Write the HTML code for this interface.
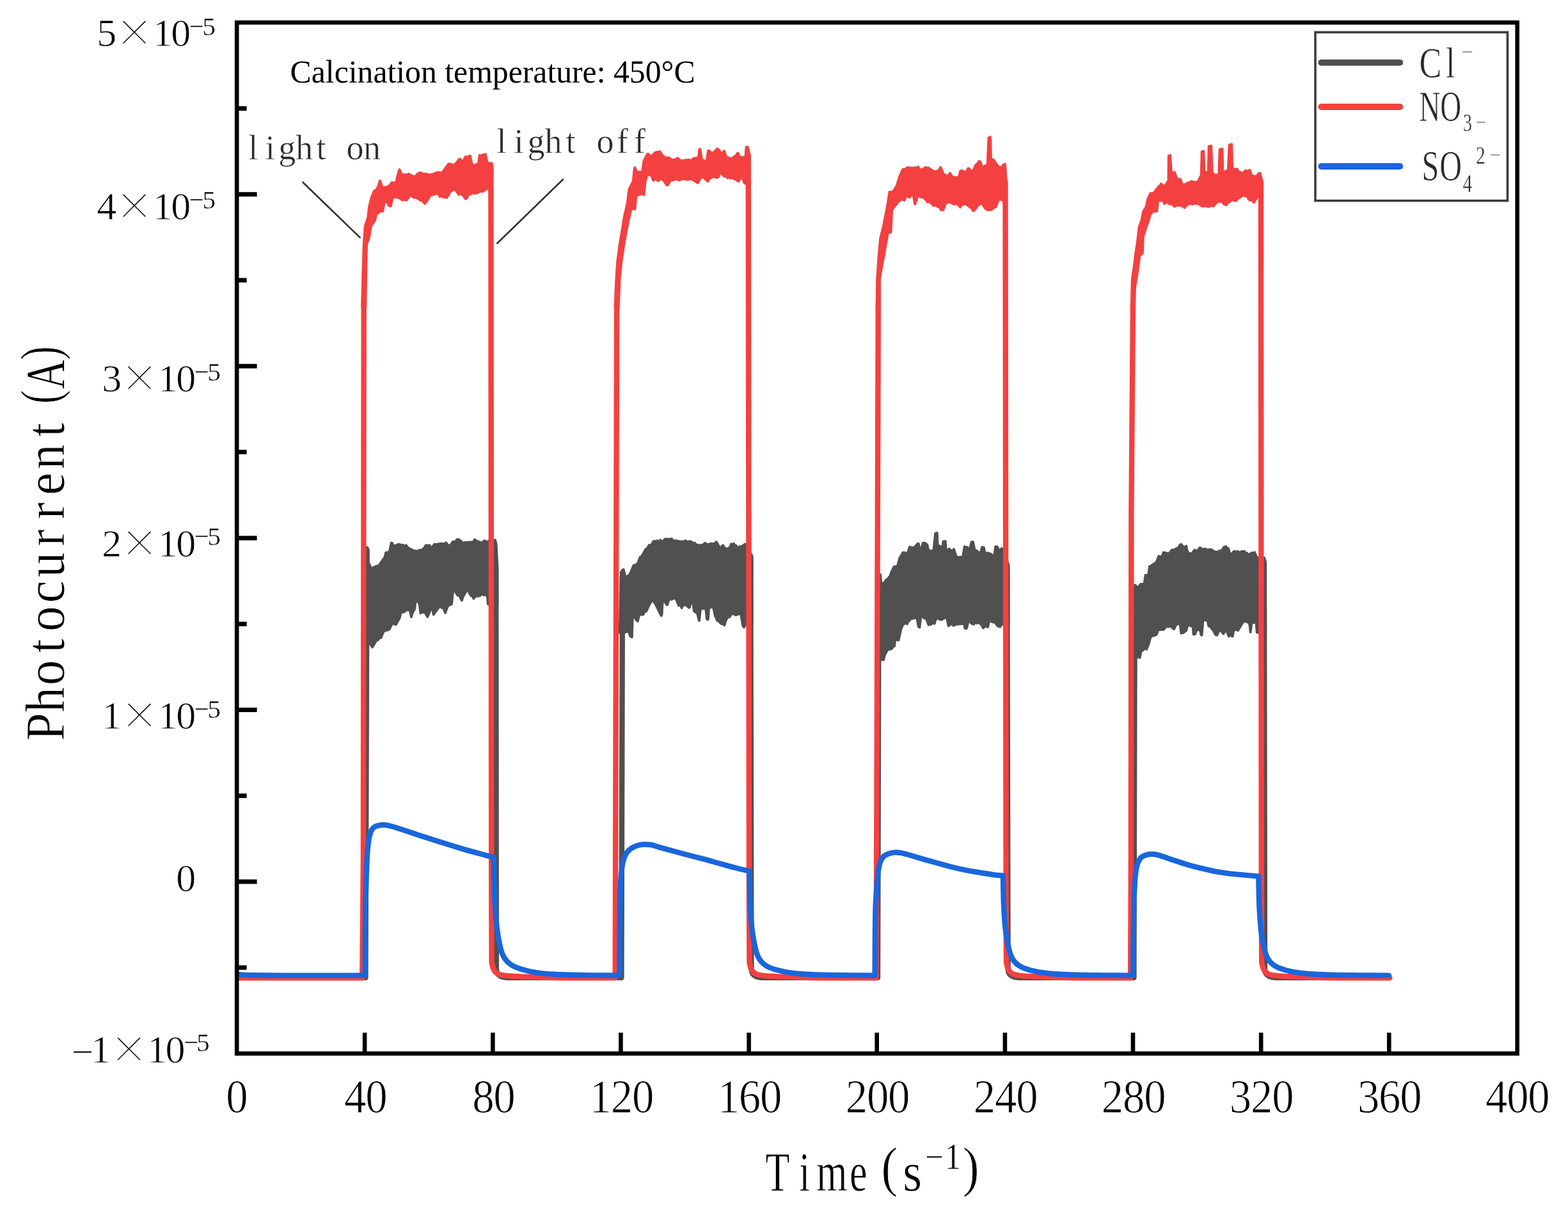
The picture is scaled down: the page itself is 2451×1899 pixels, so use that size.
<!DOCTYPE html>
<html lang="en"><head><meta charset="utf-8"><title>Photocurrent response</title>
<style>html,body{margin:0;padding:0;background:#fff}body{width:2451px;height:1899px;overflow:hidden}svg{display:block}text{font-family:"Liberation Serif",serif;fill:#000}.e6,.e8,.e10,.e12{stroke:#fff;stroke-linejoin:round}.e6{stroke-width:.6px}.e8{stroke-width:.8px}.e10{stroke-width:1px}.e12{stroke-width:.8px}.dk{fill:#2a2a2a}</style></head><body>
<svg width="2451" height="1899" viewBox="0 0 2451 1899">
<rect width="2451" height="1899" fill="#fff"/>
<defs><clipPath id="plot"><rect x="370.2" y="35.2" width="2001.5" height="1611.4"/></clipPath></defs>
<text class="e6 dk" text-anchor="middle" font-size="54" x="395.7 422.2 448.8 475.4 501.9 528.5 555 581.5" y="248.9">light on</text>
<text class="e6 dk" text-anchor="middle" font-size="54" x="784 811 838 865 892 919 946 973 1000" y="238.9">light off</text>
<g id="cl" fill="#505050" stroke="#505050" stroke-linejoin="round" stroke-linecap="round" clip-path="url(#plot)">
<path d="M370.2,1528.1 H571.4 L573.6,859.3 M775.2,888.4 L775.8,1514.1 Q776.4,1527.6 792.8,1528.1 H971.4 L973,895 M1173.3,871.9 L1174.4,1514.1 Q1175,1527.6 1191.4,1528.1 H1372 L1373.6,899.6 M1574.2,886.6 L1575.6,1514.1 Q1576.2,1527.6 1592.6,1528.1 H1772.4 L1773.8,917 M1976,879.2 L1977,1514.1 Q1977.6,1527.6 1994,1528.1 H2172" fill="none" stroke-width="8.4"/>
<path d="M569.9,855.1 572.3,855.6 574.2,855.6 576,879.2 580.2,888.1 582.1,888.7 584.5,886.5 587,885.4 589.5,884.5 591.4,884.6 592.8,883.1 601.5,870.6 603.1,863.7 605.2,863.7 608.8,862.4 611.6,848.5 612.7,848.5 615,852.6 616.8,853.3 620,851.9 622.8,850.6 625.2,851.2 627.3,851.9 630.5,852 633.3,853.7 634.8,852.3 638.3,856.7 640.9,857.7 642.9,858.7 645.7,860.2 648,861.5 650.1,860.7 652.4,862.3 655.4,859.8 658.2,859.9 662.1,857.7 665.7,852.2 668.8,852.8 671.3,852.2 674.5,856.9 679.3,850.4 681.5,851.2 684.6,850.3 687.3,849.9 690.7,849.7 693.8,850.4 697.4,848.2 699.4,851.4 701.8,852.6 703.6,852.4 708.2,846.4 711.1,847.6 714,843.2 717.3,843.2 719.7,845 721,845.9 723.9,849.4 727,847.7 730.7,847.8 733.6,847.5 736.3,847.4 738.8,846.8 740.2,847.4 741.9,843.2 744,845.2 747,846 749.1,846.9 751.9,848.1 755.1,847.7 756.5,845.1 759.1,845.9 762.4,847.9 763.8,845.1 766,845.3 768.3,845.8 771.2,844.8 773.9,844 775.6,849.8 777.4,884.5 777.5,945.7 775.4,943.3 772,944.1 769.8,945.3 767.5,945.3 764.9,945.7 762.8,944.2 761.9,933.2 759.4,928.8 756.4,930.1 753.9,927.8 750.9,930.7 748.6,931.6 746.7,932 745,931.7 743,932 740.2,935.6 738.4,931.2 736,931 730.4,921 723.6,933 721.9,938.4 720.5,936.2 718.9,932.6 717.2,930.4 715.8,930.9 714.3,929 712.1,925 709.5,923.9 708,923.8 706.1,944.2 702.5,945.8 700,947.3 697.1,954.9 696.1,957.9 692.7,949.9 690.2,949.8 687.9,947.5 685.6,949.8 678.2,959.9 677.6,960.6 675.5,947.4 671.3,957.1 668.3,964 663.9,956.9 661.9,957.2 659.9,956.6 657.3,958.4 655.7,944.4 653,939.9 651.4,940.1 649.4,939.4 648.3,951.7 644.9,957.6 642.9,964.3 640.5,952.6 637.5,953.7 634.8,952.6 633,955.9 630.8,956.3 628.7,956.9 626.7,957.4 624.6,966.1 618.8,976.3 617.4,975.5 615.3,975 613.4,974.4 608.6,983.7 604.7,985.1 602.4,985.4 599.4,987.4 595.6,996.8 593.7,996.1 591,1000.3 588.7,1000.7 586.5,1004 582.1,1011.6 577.8,1005.4 575.9,1002.6 573.1,1004.5 570.5,1005.2Z" stroke-width="3.8"/>
<path d="M970.5,901.3 973,890.9 974.5,890.1 977.8,901.6 980.1,901.9 981.6,900 984.1,898.2 985.9,894.5 990.3,883.8 992.8,883 996.7,881 1000.6,870.7 1002.2,871 1004.4,867.1 1005.9,864.4 1009.6,858 1011.8,857.4 1013.3,853.9 1014.9,851.9 1017.4,851.9 1019,850.5 1021.7,845.8 1024.6,846.1 1027.4,845.1 1029.3,847.5 1032.2,844.1 1034.9,846.2 1037.5,845.3 1039.4,842.3 1041.7,842.7 1044.1,842.6 1047,842.6 1049.9,842 1051.9,845.4 1054.2,844.9 1057.2,845.1 1060.6,846 1064,846.3 1066.8,846.4 1068.7,846.1 1072.1,845.1 1074,847.6 1076.2,846.7 1079,845.9 1081.7,847.6 1084.2,849.3 1086,848.5 1087.7,851.1 1090.5,851.5 1092.8,853.1 1095.5,851.7 1098.5,852.2 1101.6,848.7 1104.5,850.3 1107.3,851.2 1110.8,849.7 1113.5,850 1116.7,849.7 1119.8,846.9 1120.9,848.7 1124.7,856 1127.5,854.6 1130.3,852.3 1132.5,857.4 1133.9,856.8 1135.7,858.8 1137,857.7 1138.3,857.4 1140.4,855.8 1141.8,853.5 1142.9,850.2 1145.1,852.4 1146.9,849.6 1148.7,853.9 1150.1,852.2 1152.7,856 1156.6,854.2 1158.6,854.3 1161.1,852.8 1163.1,851.7 1164.6,850.3 1173.1,864.3 1175.6,868.9 1175.6,975.9 1175.6,974.8 1173.7,975.5 1171.3,974.2 1168,973.6 1165.9,976 1162.8,980.5 1161,977.3 1158,959.4 1155,959.6 1151.9,960.7 1149.8,961.3 1147.3,959.6 1144.8,959.5 1142.6,960.2 1140.4,964.6 1138.9,962.9 1136.6,966.5 1134.7,969.4 1132.4,977.2 1130.4,975.1 1128,975.2 1125.8,973.4 1123.1,970.4 1121.3,970.2 1117.9,962.6 1115,949.4 1111.7,948 1109.8,949.9 1107.9,950.8 1107,968 1105,967.9 1103.2,951.5 1101,951.2 1098.3,950.9 1095.1,951.5 1093.2,968.1 1092.9,970.2 1090.3,959.5 1088.4,957.4 1086.7,956.5 1085,955.2 1082,934.6 1077.7,949.8 1076.5,949.5 1074.3,947.4 1072.1,946 1070.2,944.8 1067.2,947 1065.6,950.3 1064.1,946.6 1062.5,945.4 1060.9,946.5 1056.7,935.9 1053.3,934.8 1049.9,937 1047.3,935.7 1045.3,937.9 1043.2,945.5 1042.2,945.1 1039.7,941.5 1037.4,939.1 1035.6,940.6 1034.6,960 1033.7,962.4 1029.9,954.9 1024.4,944 1020,937.4 1015.5,944 1010.1,955.7 1007.7,955.8 1005.4,960.5 1001.7,960.6 999.3,961 997.2,969.6 996.5,970.9 995.2,969.5 993.6,967.6 991.2,963.1 988.8,962.7 987.9,995.8 985.5,994.7 982.6,987.3 979.5,986.8 976.7,988.7 973.3,988.7 970.7,987.3 968.7,988.7Z" stroke-width="3.8"/>
<path d="M1369.7,895.3 1372.1,896.8 1376.1,898 1377.3,912.2 1380.1,911.5 1381.9,911.5 1383.9,908 1385.6,905.8 1387.4,905.2 1389.4,902.5 1391.3,900.1 1393.3,894.3 1397.6,885.7 1399.4,885.5 1401.4,885.2 1403.2,883.6 1406.2,872.3 1411.3,863.7 1413.3,863.4 1415.3,864.5 1418.6,864.6 1422.1,854.7 1425,855.8 1428.1,856 1430.7,854.1 1433.6,850.4 1435.6,849.5 1438.7,862.4 1442.7,848.7 1446,848.7 1449.4,851.4 1451.3,859.8 1453.9,860.9 1457.3,861 1459.3,861.1 1462.1,833.7 1464.9,832.9 1465.7,852.8 1468.7,853.1 1471.9,855.9 1473.7,853.5 1474.4,846.4 1477.8,845.8 1478.6,861.2 1481.3,859.6 1483.7,857.8 1486.4,860.4 1489.6,860.6 1491,858.3 1494.5,869.1 1497.8,871.5 1500.8,870.6 1502.8,870.7 1504.9,870.8 1507.7,854.2 1509.8,857 1511.7,855 1514.1,858.3 1515.9,857.9 1518.6,847.1 1520.9,847 1523.7,859.8 1526.3,860.5 1529.4,863.3 1532.1,863.2 1533.5,862.2 1534.9,855.5 1537.7,855.5 1539.4,862.8 1541.4,865.4 1543.6,864.2 1546.6,865.1 1549.6,866.3 1552.5,869.6 1554.3,867.2 1556.2,854.2 1559.1,854.9 1561.2,859.6 1563.5,859.6 1565.9,857.2 1574.8,877.8 1576.5,883.2 1576.5,975.9 1575.2,973.3 1572.9,975.7 1570.7,975 1567.9,976 1565.2,976.4 1563.4,979.6 1559.3,978.1 1557,975.1 1555.2,972.9 1553.7,972.5 1551.4,972.3 1549,970.4 1545.9,971.9 1544.1,980.1 1541.5,978.6 1539.5,979 1536.8,981.5 1533.8,976.3 1529.9,972.3 1527.1,974.1 1525.1,972.2 1521.9,975.9 1520.3,974.9 1517.7,973.7 1515.5,970.6 1513.3,972.5 1511,982.1 1508.3,982 1507,975.3 1505,975.2 1502.9,975 1500.3,974.9 1497.5,975.9 1496,975.4 1493.5,976.3 1490.3,977.7 1488,975.2 1485.8,975.7 1482.7,978.3 1479.9,965.5 1478.7,963.6 1476.4,966.1 1474.4,967 1471.9,968.6 1468.3,967.9 1466.3,966.4 1463,967 1460.7,974.7 1458.6,973.3 1455.4,975.9 1451.5,976.5 1448.1,967.5 1444.6,965.9 1441.4,963.6 1439.4,964 1437.5,980.6 1435.4,978.8 1433.4,965.8 1430.9,965.8 1427.5,966.4 1425.2,967.2 1423.7,965.9 1421.6,970.1 1420.3,969.9 1418,975.3 1416.1,973 1414,974.8 1411.4,976.4 1408.1,984.6 1404.6,1000.7 1402.2,1000 1399.2,1000.5 1398.1,1010.1 1395.9,1010.3 1394.2,1013.7 1392.2,1014.5 1389.5,1014.9 1386.6,1016.7 1382.5,1024.8 1381.1,1031.4 1379,1030.9 1376.9,1030.8 1373.7,1029.2 1370.5,1030.8Z" stroke-width="3.8"/>
<path d="M1770.3,916.5 1772.6,919.4 1776.1,918.1 1779.3,917.3 1780.8,915.8 1782.4,913.9 1783.3,912.6 1785.7,913.7 1788.7,911.8 1790.5,898.9 1793.6,899.3 1795.1,898 1797,885.2 1799.4,884.6 1801.8,882.3 1803.5,881.7 1806.3,879.4 1807.8,878.2 1811.3,869.2 1814.1,870.9 1817.5,867.6 1818.8,863.3 1821.2,863.8 1823.8,864.4 1827.2,865.7 1828.7,863.3 1830,861.8 1831.9,859.5 1835.1,859.7 1838.4,857.6 1839.7,857.1 1842.2,856.2 1844,852 1846.1,850.5 1848.5,853.5 1849.5,854.1 1851.7,855.2 1854.3,853.6 1855.8,861.4 1858.7,865.2 1861.7,865.2 1864,864.1 1866,861.1 1867.6,859.5 1869.9,861.9 1873.8,858.7 1875.1,856.1 1877.4,856.8 1879.7,858.8 1882.9,857.9 1885,858.2 1887.8,859.8 1890.3,858.9 1893.7,858.8 1895.3,860.5 1897.5,861.6 1901,862.9 1904.3,862 1907.7,860.5 1909.4,861.7 1911.6,857.4 1913.5,854.9 1916.5,854.2 1918.6,857.7 1919.9,856.9 1922.6,865.9 1924.6,866.4 1927.4,863.2 1929.3,861.5 1931.8,862.5 1934.8,861.9 1938,863.6 1940.7,861.9 1945.2,861.6 1947.1,865.3 1948.9,864.3 1951.2,866.2 1953.6,866.7 1956.3,864 1958.6,864.4 1961.1,863.2 1964.6,871.4 1968.1,871.7 1970.6,871.9 1974.1,871.7 1975.9,871.5 1977.6,876.1 1978.3,988.7 1975,986.9 1972.1,987.8 1969.8,987.7 1966.7,988.7 1964.7,988.3 1963.7,973.6 1962,973.4 1960,973 1956.5,973.5 1954.6,988.1 1954.5,987.1 1953.6,977.1 1951.3,972.1 1949.5,972 1948.1,971.9 1946.3,970.4 1945.1,971.3 1943.7,971 1941.9,974.3 1940.2,976.7 1935.1,985.5 1931.7,983.4 1928.4,985.7 1926.7,994.7 1923.2,992.4 1920.9,994.6 1917,985.3 1914,987.4 1912.3,990.6 1910.7,988.6 1907.9,984.7 1905.7,986 1902.2,992.8 1900.1,992 1895.6,983.9 1894.6,983.1 1892,979.2 1889.4,978.7 1887.5,969.5 1885.8,969.6 1883.4,969.1 1880.4,970 1878.6,992.9 1877.3,992.1 1876.5,985.9 1873.3,984.1 1869.9,985.6 1868.3,990.9 1865.6,991.6 1864.7,979.7 1861.9,978.5 1858.6,976.6 1856.3,978.2 1854.1,985.9 1851.3,987.7 1849.6,988.8 1846.4,989.7 1844.6,976.1 1842.9,974.3 1839.7,976.1 1837.8,977.5 1835.1,983.3 1832.6,981.4 1830.5,978.6 1828.1,979.2 1826.3,979.6 1823.2,979.1 1820.4,982.3 1818.5,984.2 1814,984.2 1810.6,984.5 1807.6,992 1806.3,992.1 1804.6,993.3 1802.4,993.9 1800.1,994.1 1798.3,996.8 1795.3,1007.4 1792.1,1014.9 1789,1013.2 1786.9,1016 1783.7,1017.8 1781.8,1027.9 1780.1,1026 1776.8,1028.1 1772.6,1027.2 1770.5,1028.1Z" stroke-width="3.8"/>
</g>
<g id="no3" fill="#F44040" stroke="#F44040" stroke-linejoin="round" stroke-linecap="round" clip-path="url(#plot)">
<path d="M370.2,1528.4 H566.2 L567.9,1340 L568.7,474 M767.4,264.4 L768.2,1400 L768.6,1504.1 C769.6,1507.7 769.8,1511.5 771.5,1514.8 C773,1517.7 775.2,1520.4 778.1,1521.9 C782.1,1523.9 786.7,1524.4 791.2,1524.9 C801.9,1526 812.6,1526.2 823.3,1526.7 C835.2,1527.2 847.1,1527.6 859,1527.9 C872.2,1528.2 885.4,1528.2 898.6,1528.4 H961.7 L962.1,1340 L964.1,474 M1169.7,244.3 L1171,1400 L1171.4,1504.1 C1172.4,1507.7 1172.6,1511.5 1174.3,1514.8 C1175.8,1517.7 1178,1520.4 1180.9,1521.9 C1184.9,1523.9 1189.5,1524.4 1194,1524.9 C1204.7,1526 1215.4,1526.2 1226.1,1526.7 C1238,1527.2 1249.9,1527.6 1261.8,1527.9 C1275,1528.2 1288.2,1528.2 1301.4,1528.4 H1369.3 L1370.2,1340 L1372.8,474 M1571.5,284.6 L1572.6,1400 L1573,1504.1 C1574,1507.7 1574.2,1511.5 1575.9,1514.8 C1577.4,1517.7 1579.6,1520.4 1582.5,1521.9 C1586.5,1523.9 1591.1,1524.4 1595.6,1524.9 C1606.3,1526 1617,1526.2 1627.7,1526.7 C1639.6,1527.2 1651.5,1527.6 1663.4,1527.9 C1676.6,1528.2 1689.8,1528.2 1703,1528.4 H1767.2 L1767.9,1340 L1768.4,800 L1771,474 M1971,284.6 L1971.8,1400 L1972.2,1504.1 C1973.2,1507.7 1973.4,1511.5 1975.1,1514.8 C1976.6,1517.7 1978.8,1520.4 1981.7,1521.9 C1985.7,1523.9 1990.3,1524.4 1994.8,1524.9 C2005.5,1526 2016.2,1526.2 2026.9,1526.7 C2038.8,1527.2 2050.7,1527.6 2062.6,1527.9 C2075.8,1528.2 2089,1528.2 2102.2,1528.4 H2172.5" fill="none" stroke-width="8.4"/>
<path d="M566,480 567.5,418.1 568.7,381.6 570,363.3 570.5,354.4 575.1,339.7 577,323.2 580.6,308.8 585,298.2 587.1,297.3 588.5,296.2 590.1,293.5 591.4,290.8 593.9,282.5 594.5,283.6 597.7,293.2 600.8,292.9 603,292.6 606.3,291.5 608.7,290.4 610.4,288.1 612.5,285.2 615.3,285.7 618.9,285.3 623.6,266.8 624.5,265 627.4,271.5 630.4,274.1 632.5,272.5 635.7,273.6 638.8,271.6 640.5,273.2 642.3,274 644.9,275.3 647.5,276.4 649.7,275.1 652.1,272.2 656,269.8 659.4,270.6 662.2,272.5 664.6,271.6 667.1,272.1 669.3,272.5 672.2,273.8 674.2,272.5 676.1,272.5 678.9,271.2 681.2,270.5 683.5,269.4 686.3,269.5 688.4,270.2 691.6,269.4 701,256.4 703.1,256.1 706,256.9 708.1,258.9 709.6,257.7 711.2,256.5 713.6,254 715.5,252 717.3,249.2 719.3,248.7 722.2,252.8 724.3,251.3 728,244.8 730.3,246.2 732.5,244 734.9,243.6 737.5,256.3 740.1,258.2 742.7,258.4 745.4,256.4 747.9,256.1 749.6,242.6 752.4,243.6 755.7,241.7 758.9,241 761.3,253.4 763.7,255.2 765.8,255.2 768.7,255.5 769.7,262.8 765.6,308.2 765.1,294 763,294 760.1,296 757.5,297 755.6,299.1 753.7,299.4 750.5,298.8 747.2,301 745,301.8 743,301.6 740.4,302.3 738.1,300.9 735.5,303.7 733.8,303.4 732.1,304.8 730.5,308.6 727.8,311 726.2,309.1 724.1,304.6 722.7,304.8 720,301.9 717.3,304 710.8,295.3 708.5,297.1 706.1,297.8 703.5,299.7 701.9,303.3 698.2,309.1 696,308 693.3,308.3 690.6,306 687.5,307.4 686.6,304.8 685.3,303.6 683.6,302.7 682,302.2 679.9,303.5 677.3,303.9 674.7,304.9 672,306.3 670.5,308.9 668.7,312.2 667.1,314.3 664.1,318.2 660.8,314.4 658.7,313.1 656.6,312.9 653.7,310.4 651.1,309.4 649.1,307.9 647.3,309.2 645.1,307.1 643.2,305.3 640.4,306.4 635.6,312.9 633.8,312.7 631.2,311.7 628.6,312.8 627.5,311.7 624.9,310 623.1,309.3 620.8,308.3 618.6,308.2 615.7,308.1 613.2,310.5 611,322 609.2,322.2 607.1,320.1 605.3,315.7 602.9,315.6 601.3,314.1 598.2,330.1 593.9,330 591.4,332.9 588.3,334.4 586.2,344.1 579.7,353.4 576.9,371.9 573.2,381.3 572.3,418.1 571.4,480Z" stroke-width="3.8"/>
<path d="M961.4,480.1 963.3,436.5 965.1,409.1 968.7,381.7 972.4,359.8 976,337.9 980.6,317.7 983.3,295.9 989.8,283 991.6,262.9 992.3,262.1 996.1,269.5 999.3,268.6 1002.6,268.8 1004.3,266.9 1006.2,252 1011.4,241.5 1013.1,240.5 1015.6,242.9 1017.6,244.1 1019.7,242.9 1021.9,240.9 1023.6,238.5 1026.6,237.8 1029.7,237.5 1031.2,236.7 1036.3,243.8 1039.6,246.2 1042.5,246.3 1044.3,246.4 1046,246.8 1048.8,248.5 1051.4,250.7 1053.5,249.4 1055.7,249.7 1057.2,248.4 1059.2,246.9 1060.9,248.8 1062.8,250.7 1064.5,250.6 1066.8,251.8 1069.5,250.4 1072.9,250.3 1076.1,249.6 1078.1,250.6 1081.4,250.2 1083.6,247.8 1085.9,247.1 1088.7,247.4 1092.1,245.1 1093.1,233.9 1094.3,233 1097,249.4 1099.9,250.7 1103.3,251.9 1105,250.4 1106.9,235.7 1108.9,235.7 1112.7,240.5 1115.1,238.3 1117.2,237.2 1119.2,234.5 1121.6,232.3 1123.8,234.3 1127.3,240.4 1128.7,240.8 1130.9,236.5 1132,236.1 1134.9,244.5 1137.5,247.8 1139.6,246.4 1142.3,248.2 1144.2,247.7 1146.5,245.8 1148.2,244.4 1149.7,244.7 1152.1,240.1 1153.3,239.1 1157.3,246.6 1160.2,245.7 1163.3,246.4 1165.5,243.9 1166.4,230.2 1168.6,229.6 1172,242.8 1166.4,287.3 1163.6,286.2 1160.5,277.1 1158.1,277.1 1156.3,280.6 1154.2,283.5 1151.7,281.6 1149.9,280.2 1147.8,279.8 1144.4,277.4 1142.3,278.8 1140,277.1 1136.8,278 1135.1,275.2 1132.1,275.7 1126.6,268.8 1122.4,277.3 1120.7,277.3 1118.5,277.4 1115.1,275.5 1111.8,278 1110.6,277 1108.4,279.6 1106.6,283.4 1105,282 1102.6,280.1 1100.3,277.4 1097.6,277.3 1095.9,276.4 1090.9,285.9 1089.4,285.4 1088.2,284 1085.4,282.6 1083.7,281.7 1081.1,279.1 1079.1,279.8 1076.8,280.4 1074,280.7 1071.2,280 1067.9,279.5 1064.6,280.4 1061.2,281.6 1058.3,279.5 1055.4,280.7 1051.8,281.6 1049.5,280.7 1047.2,283.8 1043.5,289.3 1042.3,289.4 1036.4,280.9 1033.5,279 1030.4,281.6 1028.1,282.5 1026.3,280.2 1024,279.7 1021.1,282 1018.6,274.9 1017.2,273.6 1014.1,273.4 1011.3,273.9 1008.9,282.3 1006.4,304.5 1005,302.9 1001.8,303.2 998.7,304.4 996.7,304.8 994.5,305.4 992.5,326.8 989.4,326.1 986.3,327.3 983.3,340.8 978.7,362.8 975,384.8 971.4,408.7 968.6,436.3 966.8,479.9Z" stroke-width="3.8"/>
<path d="M1370.6,480 1371.1,436.5 1373.3,403.6 1376.1,372.6 1380.6,354.4 1384.3,336 1388,315.9 1390.5,299.9 1393.7,300.6 1396.5,298.7 1401.6,290.6 1406.2,275.9 1411.3,264.6 1413.7,264.6 1416.6,263.2 1419.3,261.5 1422.1,262.2 1425.4,262.3 1428.3,262.5 1430.4,261.9 1432.6,263.1 1435.1,260.6 1436.5,263 1438.5,265.8 1440,265.2 1442.4,264.6 1445.2,262.9 1446.9,261.5 1449.3,262.3 1451.3,262.3 1453.6,263.9 1456.1,265.3 1458.9,268.5 1460.7,267.9 1463.5,267.7 1466,267.1 1467.8,265.7 1470.3,261.4 1470.6,262.5 1474.3,270.9 1476.1,274.2 1477.8,273.4 1479.8,276.5 1481.5,275.3 1485,270.7 1487.8,275.1 1490.3,277.7 1492.6,276.8 1495.3,278.1 1498.9,276.8 1501.2,267.2 1504.8,267 1507,268.8 1509.6,269.6 1513.6,263 1515.1,264 1517.9,267.3 1520.9,267.6 1525.1,257.9 1526.5,257.1 1528.5,255 1529.8,252.2 1532.1,252.7 1535.2,260.3 1537.7,261.6 1539.9,258.9 1542.2,259.4 1543.6,257.2 1545.5,215.2 1548.1,214.3 1549,248 1551,249.2 1553.2,250 1558.7,258.2 1560.8,260.5 1562.8,261 1564.9,261.6 1567.2,260.6 1568.2,257.7 1571.1,256.5 1572.8,282.7 1570.2,326.4 1569.1,312.8 1566.3,312.6 1563.5,310.8 1560.4,313.4 1556.7,323.5 1554.6,324.4 1552.5,324.5 1550.2,327.5 1546.5,328 1544,328.3 1541.6,326.7 1539.6,325.3 1535,317.4 1532.6,318.8 1530,320 1527.5,322.5 1523.2,328.7 1520.7,329.4 1519.2,325.2 1517.5,324.6 1515.5,323.2 1512.2,320.6 1509.4,319.2 1506.8,319.1 1505.5,319.1 1502.8,320.5 1501.1,323.7 1498.5,321.1 1496.8,318.2 1494.2,319.2 1491.1,319.2 1488.4,317.6 1485.3,316.4 1483.4,316 1480.6,316.5 1478,318 1474.4,328.1 1471.1,328.4 1469.7,325.7 1467.6,323 1465.8,323 1463.5,321 1461.1,320.9 1458.3,321.1 1457,318.2 1454.3,316.9 1451.5,315.3 1449.5,315.9 1448.3,312.9 1446.3,311.8 1443.9,308.5 1442.1,308.4 1439.5,308 1436.8,306.6 1434.1,307.8 1430.3,319 1430,318.5 1427.1,301.7 1426.2,300.9 1424.6,304.8 1423,306.5 1421.7,308.5 1418.8,307.1 1416.3,306.5 1413.4,313 1410.6,311.4 1407.2,313 1405.1,314 1394.3,327.9 1392.5,362.8 1388,364.2 1385.1,379.3 1382.4,395.8 1378.7,414.1 1375,436.3 1375,480Z" stroke-width="3.8"/>
<path d="M1768.7,480 1769.7,436.5 1772.4,418.4 1775.1,396.4 1777.9,378 1780.6,354.4 1784.3,345.3 1787,330.8 1791.5,323.5 1794.3,310.6 1798.4,302.2 1800.9,302.2 1803.8,301.4 1811.4,291.1 1813.4,290.7 1814.8,287.2 1817.3,289.4 1819.4,291.6 1821.4,289.9 1826.4,282.7 1826.8,243.5 1829.1,242.8 1830.9,268.4 1833.9,270.8 1835.9,269.1 1839.6,279.2 1842.2,280.2 1845.2,280.2 1847.4,286.9 1849.5,288.8 1852,288.7 1854.4,287.1 1856.2,286.2 1858.5,285.3 1860.3,285.8 1861.5,283.5 1863.8,284 1866.5,284.3 1869.5,284.9 1873.1,283.3 1877.7,273.6 1878.6,237.1 1881.3,236.3 1882.7,268.1 1886.1,270.2 1888.7,268.1 1889.6,228.9 1893.2,228 1895,270.1 1898.2,273.1 1900.2,274 1903,273 1905.2,273.8 1906.6,233.5 1910.6,232.6 1911.5,270.1 1914,268.8 1915.7,267.5 1917.7,267.8 1919.8,264.5 1921.6,226.2 1923.8,228 1925.3,225.3 1926.2,260.9 1928.2,264.1 1930.9,264.8 1933.4,264 1935.9,268.2 1938.2,268.9 1939.5,269.8 1942,270.4 1944.4,269.8 1945.9,267 1948.2,267 1950.4,267.4 1953.6,265.8 1956.9,274.8 1959.6,275.1 1962.3,276.1 1964.5,275.1 1967.3,271.4 1969.5,270.8 1972.9,283.1 1965.8,307.2 1962.2,312.6 1959.9,316.4 1956.3,312 1953.8,313 1951.7,311.3 1949.7,307.2 1947.5,305.8 1945.9,306.4 1944.2,305.7 1942.3,305.2 1939.5,307.7 1937.2,309.3 1936.1,309.6 1934.4,310.5 1931.9,313.8 1928.8,313.4 1925.8,312.1 1922.7,314.7 1920.6,316.5 1919.1,316.5 1917.2,320.2 1913.3,319.3 1911.2,315.9 1909.1,315.5 1906.6,314.7 1903.8,315.4 1900.5,317.6 1897,322.1 1893.3,321 1890.4,322.8 1887.2,322.5 1885.3,322.3 1883.2,321.6 1879.9,322.8 1877.1,320.9 1874.5,319.2 1872.7,317.9 1870.3,318.6 1867.8,317.2 1864.8,319.1 1861.7,318.1 1859.3,318.2 1856.8,319.3 1853.8,321.8 1851.6,324.7 1849,322.4 1846.7,321.9 1843.6,320.3 1840.8,321.4 1838.3,320.5 1835.8,322.8 1832.9,319.6 1831.1,318.2 1828.7,319.2 1825.5,316.4 1823,316.3 1820,318.5 1818.2,313 1814.9,313.7 1812,312.9 1810,314.8 1808.3,330.1 1805.8,330.4 1803.5,330.1 1800.8,332.2 1798.3,334.5 1794.3,347.9 1791.6,355.2 1786.9,370.2 1786,395.8 1784.2,397.2 1781.5,399.2 1779.6,414.2 1776.9,432.5 1774.1,449.1 1773.2,479.9Z" stroke-width="3.8"/>
</g>
<path id="so4" d="M369,1523 L369,1523 C372.7,1523.2 376.3,1523.4 380,1523.6 C385,1523.8 390,1524.1 395,1524.2 C413.3,1524.5 431.7,1524.6 450,1524.6 C486.7,1524.7 523.3,1524.6 560,1524.6 C563.5,1524.6 567.1,1524.6 570.6,1524.6 L570.6,1524.6 C570.8,1489.7 570.8,1454.9 571.2,1420 C571.4,1406.7 571.9,1393.3 572.3,1380 C572.6,1370.3 572.9,1360.7 573.3,1351 C573.6,1343.6 574,1336.1 574.6,1328.7 C575.1,1322.9 575.6,1317.2 576.6,1311.5 C577.4,1307.3 578.3,1303 580,1299 C580.9,1296.8 582.5,1294.7 584.3,1293.2 C585.9,1291.9 588,1291.1 590,1290.6 C593.4,1289.8 596.9,1289.1 600.4,1289.3 C605,1289.6 609.6,1290.7 614.1,1292 C631,1297.1 647.7,1303.2 664.5,1308.6 C683.5,1314.7 702.5,1320.7 721.7,1326.4 C736.9,1330.9 752.2,1334.8 767.5,1339 C768.9,1339.4 770.4,1339.7 771.8,1340.1 L771.8,1340.1 C771.9,1348.7 772,1357.3 772.2,1365.9 C772.4,1377.3 772.6,1388.7 773.1,1400.1 C773.7,1412.7 774.2,1425.3 775.4,1437.9 C776.2,1447.2 777.4,1456.4 779.1,1465.6 C780.7,1474.3 781.9,1483.2 785.4,1491.4 C787.8,1497 791.7,1502.3 796.4,1506.1 C801.4,1510.2 807.7,1512.6 813.8,1514.6 C822.7,1517.5 832,1519.5 841.3,1520.7 C853.4,1522.4 865.6,1522.8 877.8,1523.3 C895.8,1524 913.8,1524.2 931.8,1524.4 C944.1,1524.6 956.3,1524.5 968.6,1524.6 L968.6,1524.6 C968.8,1489.7 968.8,1454.9 969.1,1420 C969.2,1407.7 969.5,1395.3 970,1383 C970.3,1375.4 970.8,1367.7 971.7,1360.1 C972.3,1354.7 973.1,1349.3 974.6,1344.1 C975.8,1340.1 977.4,1336.1 979.8,1332.7 C981.9,1329.7 984.7,1327.2 987.8,1325.2 C990.9,1323.2 994.5,1322 998.1,1321 C1001,1320.2 1004.1,1319.8 1007.2,1319.7 C1011,1319.6 1014.9,1319.9 1018.7,1320.6 C1022.6,1321.4 1026.3,1323 1030.1,1324.1 C1041.5,1327.3 1053,1330.4 1064.5,1333.5 C1075.9,1336.5 1087.4,1339.4 1098.8,1342.4 C1106.5,1344.4 1114.1,1346.6 1121.7,1348.7 C1131.2,1351.3 1140.7,1354 1150.3,1356.5 C1156,1358 1161.8,1359.3 1167.5,1360.7 C1168.8,1361 1170.1,1361.2 1171.4,1361.5 L1171.4,1361.5 C1171.5,1369.1 1171.6,1376.7 1171.8,1384.3 C1172,1394.4 1172.2,1404.5 1172.7,1414.5 C1173.3,1425.7 1173.8,1436.8 1175,1447.9 C1175.9,1456.1 1177,1464.3 1178.7,1472.4 C1180.3,1480.1 1181.6,1488.1 1185,1495.2 C1187.5,1500.4 1191.4,1505 1196,1508.3 C1201.1,1512 1207.3,1514.1 1213.4,1515.8 C1222.4,1518.4 1231.6,1520.1 1240.9,1521.2 C1253,1522.6 1265.2,1523 1277.4,1523.5 C1295.4,1524.1 1313.4,1524.2 1331.4,1524.4 C1343.5,1524.6 1355.5,1524.5 1367.6,1524.6 L1367.6,1524.6 C1367.9,1489.7 1367.7,1454.9 1368.5,1420 C1368.8,1407.6 1369.9,1395.3 1370.8,1383 C1371.4,1375.4 1372,1367.7 1373.1,1360.1 C1373.8,1355.5 1374.6,1350.8 1376.3,1346.4 C1377.4,1343.4 1379.2,1340.6 1381.5,1338.4 C1383.5,1336.5 1386.3,1335.4 1388.9,1334.4 C1391.9,1333.3 1395,1332.7 1398.1,1332.4 C1401.1,1332.2 1404.2,1332.4 1407.2,1332.9 C1411.1,1333.5 1414.9,1334.5 1418.7,1335.5 C1426.4,1337.6 1433.9,1340.2 1441.6,1342.4 C1449.2,1344.6 1456.9,1346.6 1464.5,1348.7 C1472.1,1350.8 1479.7,1353.1 1487.4,1355 C1495,1356.9 1502.6,1358.6 1510.3,1360.1 C1517.9,1361.6 1525.6,1362.8 1533.2,1364.1 C1540.8,1365.3 1548.4,1366.6 1556,1367.6 C1559.9,1368.1 1563.9,1368.3 1567.9,1368.7 L1567.9,1368.7 C1568,1376 1568.1,1383.3 1568.3,1390.5 C1568.5,1400.1 1568.7,1409.8 1569.2,1419.4 C1569.8,1430 1570.3,1440.7 1571.5,1451.3 C1572.4,1459.2 1573.5,1467 1575.2,1474.7 C1576.8,1482.1 1578.1,1489.8 1581.5,1496.5 C1584,1501.5 1587.9,1505.9 1592.5,1509 C1597.7,1512.6 1603.9,1514.5 1609.9,1516.2 C1618.9,1518.6 1628.1,1520.3 1637.4,1521.3 C1649.5,1522.7 1661.7,1523.1 1673.9,1523.5 C1691.9,1524.1 1709.9,1524.2 1727.9,1524.4 C1742.3,1524.6 1756.6,1524.5 1771,1524.6 L1771,1524.6 C1771.4,1489.7 1771.6,1454.9 1772.3,1420 C1772.5,1407.7 1773,1395.3 1773.7,1383 C1774.1,1375.3 1774.7,1367.7 1775.8,1360.1 C1776.4,1356.2 1777.2,1352.4 1778.6,1348.7 C1779.7,1345.8 1781.1,1342.9 1783.2,1340.7 C1785,1338.8 1787.5,1337.6 1790,1336.7 C1792.9,1335.7 1796.1,1335.1 1799.2,1335 C1802.7,1334.9 1806.2,1335.2 1809.5,1336.1 C1816.5,1337.9 1823.2,1340.7 1830.1,1343 C1837.7,1345.5 1845.3,1348.1 1853,1350.4 C1860.6,1352.7 1868.2,1354.8 1875.9,1356.7 C1883.5,1358.6 1891.1,1360.4 1898.8,1361.8 C1906.4,1363.2 1914,1364.3 1921.7,1365.3 C1929.3,1366.3 1937,1366.9 1944.6,1367.6 C1950.3,1368.1 1956.1,1368.6 1961.8,1369.1 C1963.6,1369.3 1965.5,1369.4 1967.3,1369.5 L1967.3,1369.5 C1967.4,1376.7 1967.5,1384 1967.7,1391.2 C1967.9,1400.8 1968.1,1410.4 1968.6,1419.9 C1969.2,1430.5 1969.7,1441.1 1970.9,1451.7 C1971.8,1459.5 1972.9,1467.3 1974.6,1475 C1976.2,1482.3 1977.5,1490 1980.9,1496.7 C1983.4,1501.6 1987.3,1506 1991.9,1509.1 C1997.1,1512.6 2003.3,1514.6 2009.3,1516.2 C2018.3,1518.7 2027.5,1520.3 2036.8,1521.3 C2048.9,1522.7 2061.1,1523.1 2073.3,1523.5 C2091.3,1524.1 2109.3,1524.2 2127.3,1524.4 C2141.9,1524.6 2156.4,1524.5 2171,1524.6" fill="none" stroke="#1A66DC" stroke-width="8.4" stroke-linejoin="round" stroke-linecap="round" clip-path="url(#plot)"/>
<g id="axes" stroke="#000" fill="none" stroke-linecap="butt">
<rect x="370.2" y="35.2" width="2001.5" height="1611.4" stroke-width="6.6"/>
<path d="M370.2,303.8 H401.6 M370.2,572.3 H401.6 M370.2,840.9 H401.6 M370.2,1109.5 H401.6 M370.2,1378 H401.6" stroke-width="7"/>
<path d="M370.2,169.5 H385.6 M370.2,438.1 H385.6 M370.2,706.6 H385.6 M370.2,975.2 H385.6 M370.2,1243.8 H385.6 M370.2,1512.3 H385.6" stroke-width="7"/>
<path d="M570.1,1646.6 V1614 M770.3,1646.6 V1614 M970.4,1646.6 V1614 M1170.6,1646.6 V1614 M1370.7,1646.6 V1614 M1570.9,1646.6 V1614 M1771,1646.6 V1614 M1971.2,1646.6 V1614 M2171.3,1646.6 V1614" stroke-width="6.6"/>
</g>
<g id="yticks">
<text class="e8" text-anchor="middle" font-size="62"><tspan x="166.7" y="72">5</tspan><tspan x="209.9" y="73" font-size="61" style="font-family:'Noto Serif CJK SC','Liberation Serif',serif;stroke-width:1.1px">×</tspan><tspan x="254.2 282.8" y="72">10</tspan><tspan x="307.2 326.8" y="54.5" font-size="41" style="stroke-width:.3px">−5</tspan></text>
<text class="e8" text-anchor="middle" font-size="62"><tspan x="166.7" y="343">4</tspan><tspan x="209.9" y="344" font-size="61" style="font-family:'Noto Serif CJK SC','Liberation Serif',serif;stroke-width:1.1px">×</tspan><tspan x="254.2 282.8" y="343">10</tspan><tspan x="307.2 326.8" y="325.5" font-size="41" style="stroke-width:.3px">−5</tspan></text>
<text class="e8" text-anchor="middle" font-size="62"><tspan x="174.7" y="612.3">3</tspan><tspan x="217.9" y="613.3" font-size="61" style="font-family:'Noto Serif CJK SC','Liberation Serif',serif;stroke-width:1.1px">×</tspan><tspan x="262.2 290.8" y="612.3">10</tspan><tspan x="315.2 334.8" y="594.8" font-size="41" style="stroke-width:.3px">−5</tspan></text>
<text class="e8" text-anchor="middle" font-size="62"><tspan x="174.7" y="869.7">2</tspan><tspan x="217.9" y="870.7" font-size="61" style="font-family:'Noto Serif CJK SC','Liberation Serif',serif;stroke-width:1.1px">×</tspan><tspan x="262.2 290.8" y="869.7">10</tspan><tspan x="315.2 334.8" y="852.2" font-size="41" style="stroke-width:.3px">−5</tspan></text>
<text class="e8" text-anchor="middle" font-size="62"><tspan x="174.7" y="1139">1</tspan><tspan x="217.9" y="1140" font-size="61" style="font-family:'Noto Serif CJK SC','Liberation Serif',serif;stroke-width:1.1px">×</tspan><tspan x="262.2 290.8" y="1139">10</tspan><tspan x="315.2 334.8" y="1121.5" font-size="41" style="stroke-width:.3px">−5</tspan></text>
<text class="e8" text-anchor="middle" font-size="62" x="290.8" y="1392.5">0</text>
<text class="e8" text-anchor="middle" font-size="62"><tspan x="129.3" y="1664.5">−</tspan><tspan x="157.5" y="1660.5">1</tspan><tspan x="201.4" y="1661.5" font-size="61" style="font-family:'Noto Serif CJK SC','Liberation Serif',serif;stroke-width:1.1px">×</tspan><tspan x="245.4 274" y="1660.5">10</tspan><tspan x="298.9 317.6" y="1643" font-size="41" style="stroke-width:.3px">−5</tspan></text>
</g>
<g id="xticks" class="e10" text-anchor="middle" font-size="74" transform="translate(0,1739.3) scale(0.93,1)">
<text x="398.2" y="0">0</text>
<text x="597.1 632.8" y="0">40</text>
<text x="812.2 847.9" y="0">80</text>
<text x="1009.5 1045.2 1080.9" y="0">120</text>
<text x="1224.6 1260.3 1296" y="0">160</text>
<text x="1439.7 1475.4 1511.1" y="0">200</text>
<text x="1654.8 1690.5 1726.2" y="0">240</text>
<text x="1869.9 1905.6 1941.3" y="0">280</text>
<text x="2085 2120.7 2156.4" y="0">320</text>
<text x="2300.1 2335.8 2371.5" y="0">360</text>
<text x="2515.2 2550.9 2586.6" y="0">400</text>
</g>
<g id="xtitle" class="e12" text-anchor="middle" font-size="86">
<text transform="translate(0,1861) scale(0.72,1)" x="1688.1 1746.8 1806.2 1863.6" y="0">Time</text>
<text transform="translate(0,1861) scale(0.9,1)"><tspan x="1544.9" y="-8">(</tspan><tspan x="1584.4" y="0">s</tspan><tspan x="1622.8 1654.9" y="-34" font-size="57" style="stroke-width:.6px">−1</tspan><tspan x="1686.4" y="-8">)</tspan></text>
</g>
<g id="ytitle" class="e12" text-anchor="middle" font-size="86">
<text transform="translate(100,0) rotate(-90) scale(0.92,1)" x="-1234.8 -1188.9 -1143 -1097.2 -1051.3 -1005.4 -959.6 -913.7 -867.8 -822 -776.1 -730.2" y="0">Photocurrent</text>
<text transform="translate(100,0) rotate(-90) scale(0.74,1)" x="-838.5 -790.9 -745.5" y="-8 0 -8">(A)</text>
</g>
<text id="note" x="453.6" y="128.9" font-size="50" textLength="633" lengthAdjust="spacingAndGlyphs">Calcination temperature: 450°C</text>
<path d="M472.7,284.3 L563.4,371.9 M880.7,279.7 L776.5,381" stroke="#333" stroke-width="2.6" fill="none"/>
<g id="legend">
<rect x="2056" y="50.4" width="300.5" height="263.3" fill="#fff" stroke="#3c3c3c" stroke-width="3.6"/>
<path d="M2065.3,97.8 H2188.4" stroke="#505050" stroke-width="9.8" stroke-linecap="round" fill="none"/>
<path d="M2065.3,167 H2188.4" stroke="#F44040" stroke-width="9.8" stroke-linecap="round" fill="none"/>
<path d="M2065.3,260 H2188.4" stroke="#1A66DC" stroke-width="9.8" stroke-linecap="round" fill="none"/>
<text class="e6 dk" text-anchor="middle" font-size="67" transform="translate(0,120.5) scale(0.78,1)"><tspan x="2866.5 2906.9" y="0">Cl</tspan><tspan x="2940.9" y="-26" font-size="41" style="fill:#9a9a9a;stroke:none">−</tspan></text>
<text class="e6 dk" text-anchor="middle" font-size="67" transform="translate(0,189) scale(0.68,1)"><tspan x="3286.8 3335" y="0">NO</tspan><tspan x="3373.5" y="15.6" font-size="41" style="stroke-width:.4px">3</tspan><tspan x="3404.1" y="15.8" font-size="41" style="fill:#9a9a9a;stroke:none">−</tspan></text>
<text class="e6 dk" text-anchor="middle" font-size="67" transform="translate(0,282) scale(0.72,1)"><tspan x="3105.4 3149.7" y="0">SO</tspan><tspan x="3186.1" y="17.5" font-size="41" style="stroke-width:.4px">4</tspan><tspan x="3214.3" y="-26" font-size="41" style="stroke-width:.4px">2</tspan><tspan x="3246.4" y="-26" font-size="41" style="fill:#9a9a9a;stroke:none">−</tspan></text>
</g>
</svg></body></html>
